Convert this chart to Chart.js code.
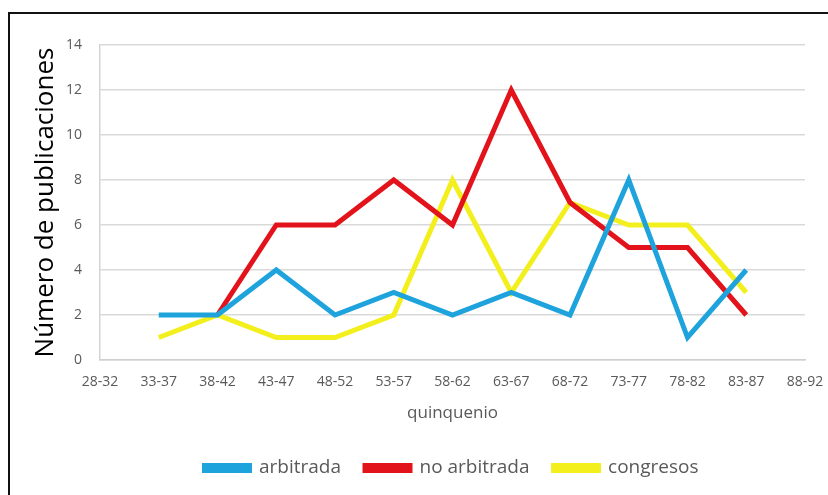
<!DOCTYPE html>
<html>
<head>
<meta charset="utf-8">
<script src="https://cdn.jsdelivr.net/npm/chart.js@4/dist/chart.umd.min.js"></script>
<style>
  html, body { margin: 0; padding: 0; background: #fff; }
  #wrap { position: relative; width: 828px; height: 495px; overflow: hidden; }
  #frame {
    position: absolute; left: 8px; top: 12px; width: 900px; height: 600px;
    border-top: 2px solid #111; border-left: 2px solid #111;
  }
  #chart { position: absolute; left: 0; top: 0; }
</style>
</head>
<body>
<div id="wrap">
  <div id="frame"></div>
  <canvas id="chart" width="828" height="495"></canvas>
</div>
<script>
// ============================================
// DATA
// ============================================
const categories = ['28-32', '33-37', '38-42', '43-47', '48-52', '53-57', '58-62',
  '63-67', '68-72', '73-77', '78-82', '83-87', '88-92'];
const arbitrada = [null, 2, 2, 4, 2, 3, 2, 3, 2, 8, 1, 4, null];
const noArbitrada = [null, null, 2, 6, 6, 8, 6, 12, 7, 5, 5, 2, null];
const congresos = [null, 1, 2, 1, 1, 2, 8, 3, 7, 6, 6, 3, null];
const yTicks = [0, 2, 4, 6, 8, 10, 12, 14];

const tickColor = '#595959';
const gridColor = '#d9d9d9';

// Shift legend so it is centered under the plot area
const legendShift = {
  id: 'legendShift',
  afterLayout(chart) {
    const lg = chart.legend;
    if (lg) {
      lg.left += 49;
      lg.right += 49;
    }
  }
};

function makeSet(label, data, color) {
  return {
    label: label,
    data: data,
    borderColor: color,
    backgroundColor: color,
    borderWidth: 5,
    pointRadius: 0,
    pointHoverRadius: 0,
    tension: 0,
    spanGaps: false
  };
}

const ctx = document.getElementById('chart').getContext('2d');
new Chart(ctx, {
  type: 'line',
  data: {
    labels: categories,
    datasets: [
      makeSet('arbitrada', arbitrada, '#1ea3dc'),
      makeSet('no arbitrada', noArbitrada, '#e3131b'),
      makeSet('congresos', congresos, '#f3ef1c')
    ]
  },
  plugins: [legendShift],
  options: {
    responsive: false,
    animation: false,
    layout: { padding: { left: 0, top: 45, right: 23, bottom: 7.5 } },
    plugins: {
      tooltip: { enabled: false },
      legend: {
        position: 'bottom',
        labels: {
          boxWidth: 45,
          boxHeight: 5,
          padding: 24,
          color: tickColor,
          font: { family: 'Open Sans', size: 19 }
        }
      }
    },
    scales: {
      x: {
        offset: false,
        afterFit(scale) {
          scale.height = 74.5;
          scale.paddingLeft = 0;
          scale.paddingRight = 0;
        },
        grid: { display: false, drawTicks: false },
        border: { display: true, color: '#cfcfcf', width: 1.5 },
        ticks: {
          color: tickColor,
          padding: 14,
          maxRotation: 0,
          autoSkip: false,
          font: { family: 'Open Sans', size: 14 }
        },
        title: {
          display: true,
          text: 'quinquenio',
          color: tickColor,
          padding: { top: 0, bottom: 11.3 },
          font: { family: 'Open Sans', size: 17 }
        }
      },
      y: {
        min: 0,
        max: 14,
        afterFit(scale) { scale.width = 100; },
        afterBuildTicks(scale) { scale.ticks = yTicks.map(v => ({ value: v })); },
        grid: { color: gridColor, lineWidth: 1.5, drawTicks: false },
        border: { display: true, color: '#d4d4d4', width: 1.5 },
        ticks: {
          color: tickColor,
          padding: 18,
          font: { family: 'Open Sans', size: 14 }
        },
        title: {
          display: true,
          text: 'Número de publicaciones',
          color: '#000',
          padding: { top: 30, bottom: 0 },
          font: { family: 'Open Sans', size: 26 }
        }
      }
    }
  }
});
</script>
</body>
</html>
